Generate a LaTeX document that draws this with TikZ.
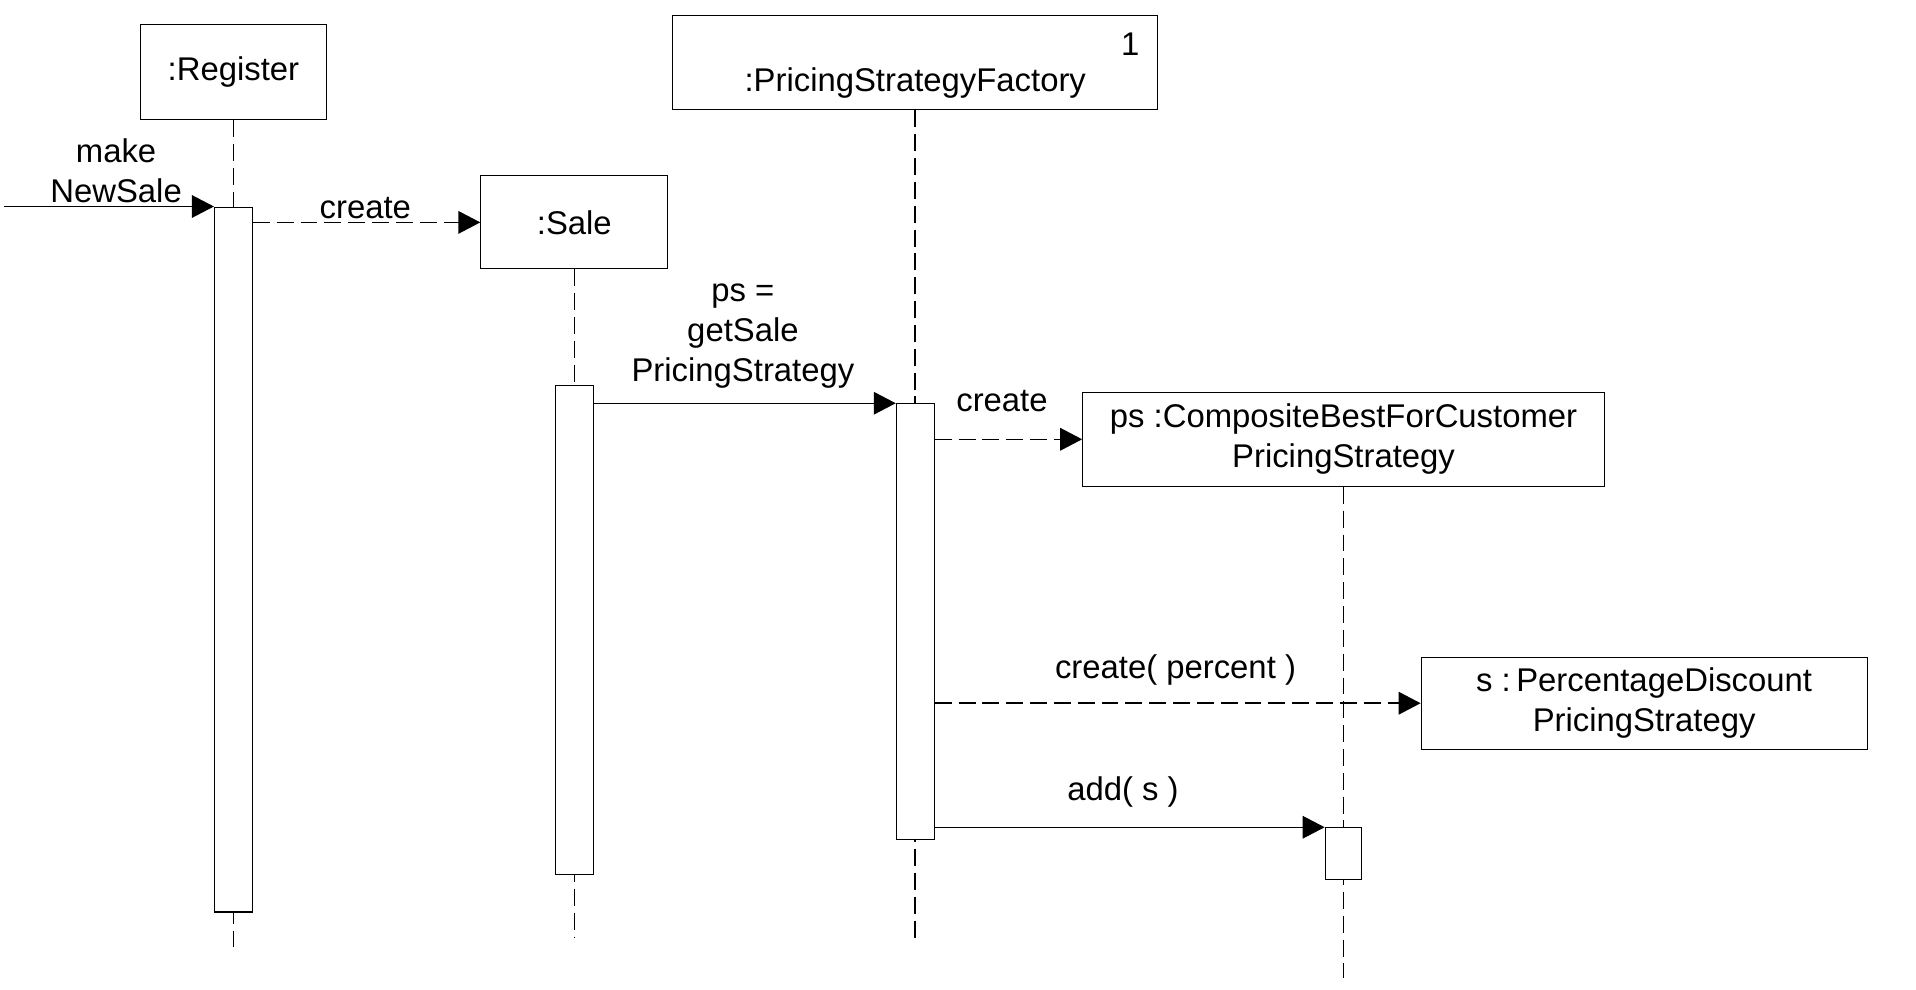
\documentclass[tikz,border=0pt]{standalone}
\usepackage{fontspec}
\setmainfont{Liberation Sans}
\usetikzlibrary{arrows.meta}

\newcommand{\BarWidth}{0.62cm}
\newcommand{\TipLength}{0.36cm}
\newcommand{\TipWidth}{0.37cm}

\tikzset{
  objbox/.style={draw, line width=0.5pt, fill=white, inner sep=0pt},
  actbar/.style={draw, line width=0.5pt, fill=white, minimum width=\BarWidth, inner sep=0pt, anchor=north},
  lifeline/.style={line width=0.7pt, dash pattern=on 7.9pt off 3.2pt},
  callmsg/.style={line width=0.5pt, -{Triangle[length=\TipLength, width=\TipWidth]}},
  createmsg/.style={line width=0.7pt, dash pattern=on 7.9pt off 3.2pt, -{Triangle[length=\TipLength, width=\TipWidth]}},
  msglabel/.style={align=center, inner sep=0pt},
}

\begin{document}
\begin{tikzpicture}[x=0.02cm, y=-0.02cm, font=\fontsize{15.3}{18.6}\selectfont]
\useasboundingbox (0,0) rectangle (1568,810);

\node[objbox, minimum width=3.04cm, minimum height=1.56cm] (reg) at (191,59) {:Register};
\node[objbox, minimum width=3.06cm, minimum height=1.52cm] (sale) at (470,182) {:Sale};
\node[objbox, minimum width=7.94cm, minimum height=1.54cm] (fact) at (749,51.5) {};
\node[objbox, align=center, minimum width=8.54cm, minimum height=1.54cm] (comp) at (1099.5,359.5) {ps :CompositeBestForCustomer\\PricingStrategy};
\node[objbox, align=center, minimum width=7.30cm, minimum height=1.50cm] (pct) at (1345.5,575.5) {s :\,PercentageDiscount\\PricingStrategy};
\node (factname) at (749,68) {:PricingStrategyFactory};
\node (factmult) at (925,36) {1};

\coordinate (regend) at (191,780);
\coordinate (saleend) at (470,767);
\coordinate (factend) at (749,773);
\coordinate (compend) at (1099.5,800);
\coordinate (entry) at (3,169);

% Lifelines go first so that the bars cover them
\foreach \obj in {reg, sale, fact, comp}{
    \draw[lifeline] (\obj.south) -- (\obj.south |- \obj end);
}

\node[actbar, minimum height=11.54cm] (regbar) at (191,169) {};
\node[actbar, minimum height=8.00cm] (salebar) at (470,315) {};
\node[actbar, minimum height=7.14cm] (factbar) at (749,330) {};
\node[actbar, minimum width=0.60cm, minimum height=0.84cm] (addbar) at (1099.5,677) {};

\draw[callmsg] (entry) -- (regbar.north west);% makeNewSale
\draw[createmsg] (regbar.east |- sale.west) -- (sale.west);% create Sale
\draw[callmsg] (salebar.east |- factbar.north) -- (factbar.north west);% getSalePricingStrategy
\draw[createmsg] (factbar.east |- comp.west) -- (comp.west);% create composite
\draw[createmsg] (factbar.east |- pct.west) -- (pct.west);% create percentage
\draw[callmsg] (factbar.east |- addbar.north) -- (addbar.north west);% add

\node[msglabel] (makelbl) at (95,140) {make\\NewSale};
\node[msglabel] (createsalelbl) at (299,170) {create};
\node[msglabel] (getlbl) at (608,275) {ps =\\getSale\\PricingStrategy};
\node[msglabel] (createcomplbl) at (820,328) {create};
\node[msglabel] (createpctlbl) at (962,548) {create( percent )};
\node[msglabel] (addlbl) at (919,648) {add( s )};
\end{tikzpicture}
\end{document}
